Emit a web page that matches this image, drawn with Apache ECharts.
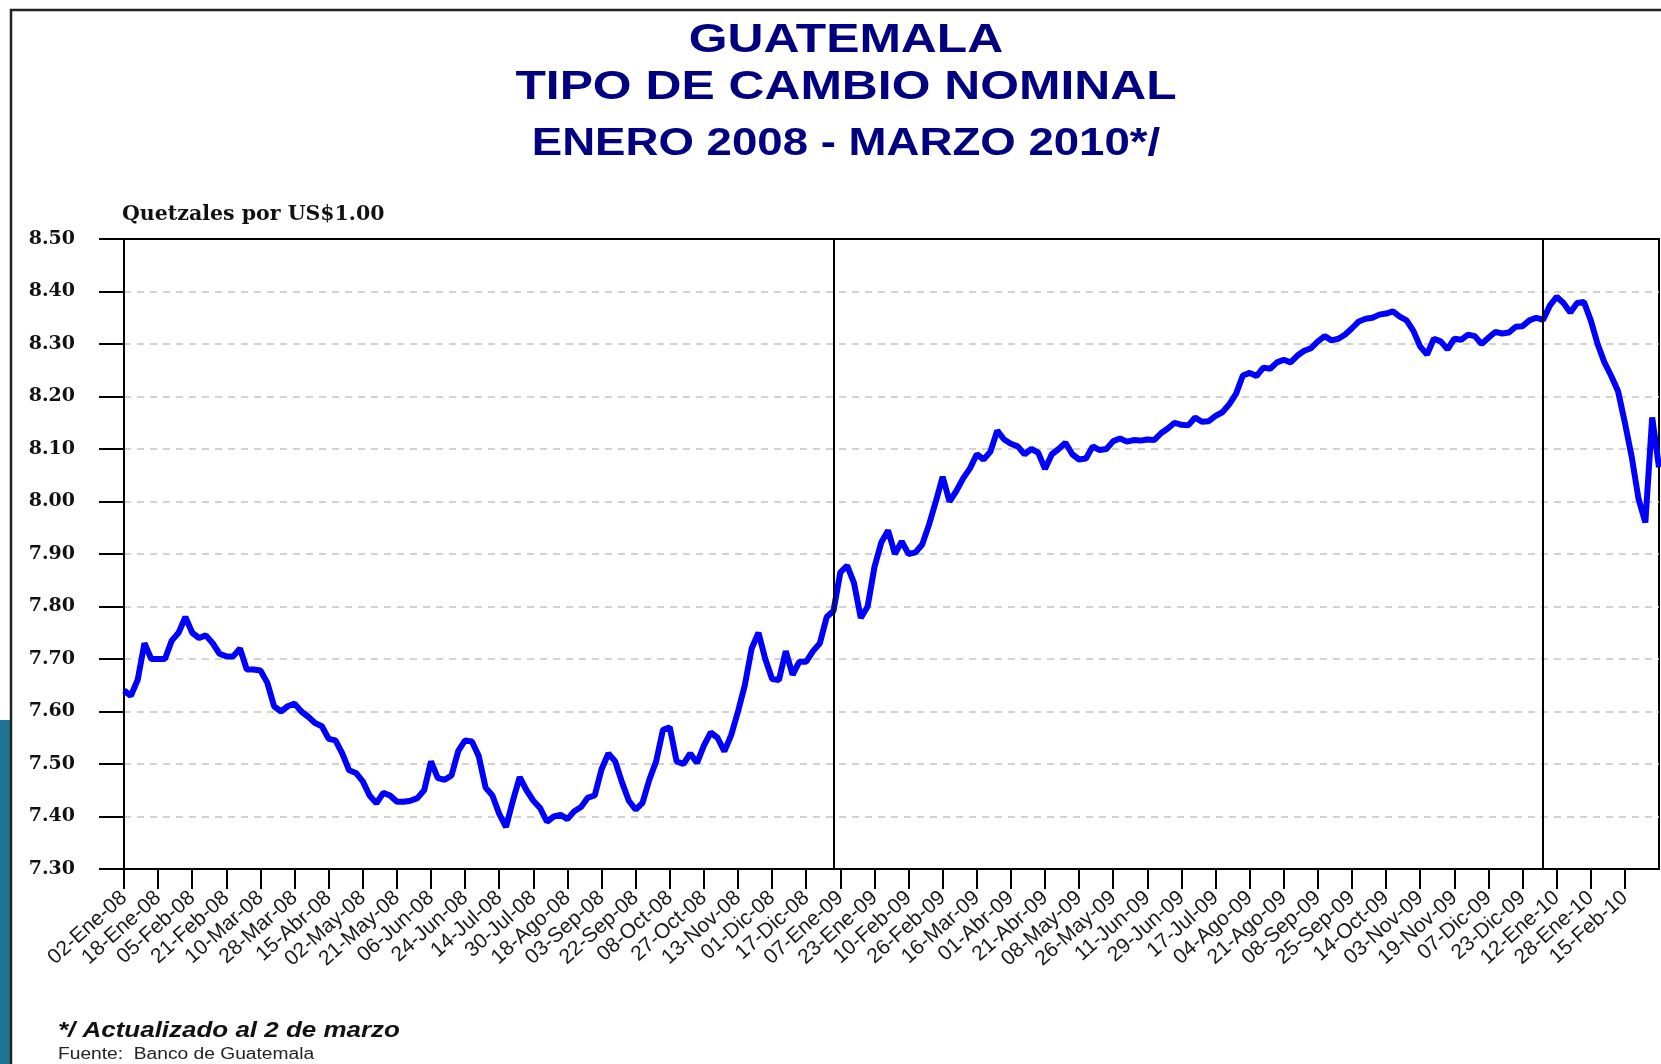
<!DOCTYPE html>
<html>
<head>
<meta charset="utf-8">
<title>Guatemala - Tipo de cambio nominal</title>
<script src="https://cdn.jsdelivr.net/npm/echarts@6/dist/echarts.min.js"></script>
<style>
  html, body { margin: 0; padding: 0; background: #fff; }
  #main { width: 1661px; height: 1064px; }
</style>
</head>
<body>
<div id="main"></div>
<script>
// fechas marcadas en el eje (una marca cada 5 puntos)
var tickLabels = [
  '02-Ene-08', '18-Ene-08', '05-Feb-08', '21-Feb-08', '10-Mar-08', '28-Mar-08', '15-Abr-08',
  '02-May-08', '21-May-08', '06-Jun-08', '24-Jun-08', '14-Jul-08', '30-Jul-08', '18-Ago-08',
  '03-Sep-08', '22-Sep-08', '08-Oct-08', '27-Oct-08', '13-Nov-08', '01-Dic-08', '17-Dic-08',
  '07-Ene-09', '23-Ene-09', '10-Feb-09', '26-Feb-09', '16-Mar-09', '01-Abr-09', '21-Abr-09',
  '08-May-09', '26-May-09', '11-Jun-09', '29-Jun-09', '17-Jul-09', '04-Ago-09', '21-Ago-09',
  '08-Sep-09', '25-Sep-09', '14-Oct-09', '03-Nov-09', '19-Nov-09', '07-Dic-09', '23-Dic-09',
  '12-Ene-10', '28-Ene-10', '15-Feb-10'
];
var STEP = 5;

// quetzales por US$1.00, un valor cada ~2 dias habiles
var rate = [
  7.64, 7.63, 7.66, 7.73, 7.70,
  7.70, 7.70, 7.735, 7.75, 7.78,
  7.75, 7.74, 7.745, 7.73, 7.71,
  7.705, 7.705, 7.72, 7.68, 7.68,
  7.678, 7.655, 7.61, 7.60, 7.61,
  7.615, 7.60, 7.59, 7.578, 7.572,
  7.548, 7.545, 7.52, 7.488, 7.483,
  7.467, 7.44, 7.425, 7.445, 7.44,
  7.428, 7.428, 7.43, 7.435, 7.45,
  7.505, 7.473, 7.47, 7.478, 7.525,
  7.545, 7.543, 7.515, 7.455, 7.44,
  7.405, 7.38, 7.43, 7.475, 7.45,
  7.43, 7.416, 7.39, 7.40, 7.403,
  7.395, 7.41, 7.418, 7.436, 7.44,
  7.49, 7.52, 7.505, 7.465, 7.43,
  7.413, 7.426, 7.47, 7.505, 7.565,
  7.57, 7.505, 7.50, 7.52, 7.502,
  7.535, 7.56, 7.55, 7.524, 7.555,
  7.60, 7.65, 7.72, 7.75, 7.70,
  7.662, 7.66, 7.715, 7.67, 7.695,
  7.695, 7.715, 7.73, 7.78, 7.792,
  7.865, 7.878, 7.845, 7.778, 7.80,
  7.875, 7.922, 7.945, 7.90, 7.924,
  7.90, 7.903, 7.918, 7.956, 8.00,
  8.047, 8.00, 8.02, 8.044, 8.063,
  8.09, 8.08, 8.095, 8.135, 8.118,
  8.11, 8.105, 8.09, 8.10, 8.093,
  8.062, 8.09, 8.10, 8.112, 8.09,
  8.08, 8.082, 8.105, 8.098, 8.10,
  8.115, 8.12, 8.114, 8.117, 8.116,
  8.118, 8.117, 8.13, 8.139, 8.15,
  8.146, 8.145, 8.16, 8.152, 8.153,
  8.163, 8.17, 8.185, 8.205, 8.24,
  8.245, 8.239, 8.255, 8.253, 8.265,
  8.27, 8.265, 8.278, 8.287, 8.292,
  8.305, 8.315, 8.307, 8.31, 8.318,
  8.33, 8.343, 8.348, 8.35, 8.356,
  8.358, 8.362, 8.352, 8.345, 8.325,
  8.295, 8.28, 8.31, 8.305, 8.29,
  8.31, 8.308, 8.318, 8.315, 8.30,
  8.312, 8.323, 8.32, 8.322, 8.333,
  8.334, 8.345, 8.35, 8.346, 8.373,
  8.39, 8.378, 8.36, 8.378, 8.38,
  8.345, 8.30, 8.265, 8.239, 8.21,
  8.15, 8.085, 8.005, 7.96, 8.16,
  8.065
];

// cambio de año (posicion en el eje)
var yearBreaks = [104, 208];

(function() {
  var categories = [];
  for (var i = 0; i < rate.length; i++) {
    categories.push(i % STEP === 0 && tickLabels[i / STEP] ? tickLabels[i / STEP] : 'p' + i);
  }
  function isTick(i) {
    return i % STEP === 0 && i / STEP < tickLabels.length;
  }

  var navy = '#000080';
  var option = {
    backgroundColor: '#fff',
    animation: false,
    grid: {
      left: 124,
      right: 2,
      top: 239,
      bottom: 195,
      show: true,
      borderColor: '#000',
      borderWidth: 2
    },
    xAxis: {
      type: 'category',
      data: categories,
      boundaryGap: false,
      axisLine: { lineStyle: { color: '#000', width: 2 } },
      axisTick: {
        interval: function(i) { return isTick(i); },
        length: 20,
        lineStyle: { color: '#000', width: 2 }
      },
      axisLabel: {
        interval: function(i) { return isTick(i); },
        rotate: 42,
        margin: 26,
        fontFamily: 'Liberation Sans',
        fontSize: 21,
        color: '#1a1a1a'
      },
      splitLine: { show: false }
    },
    yAxis: {
      type: 'value',
      min: 7.3,
      max: 8.5,
      interval: 0.1,
      axisLine: { show: true, lineStyle: { color: '#000', width: 2 } },
      axisTick: { show: true, length: 25, lineStyle: { color: '#000', width: 2 } },
      axisLabel: {
        margin: 49,
        formatter: function(v) { return v.toFixed(2); },
        fontFamily: 'DejaVu Serif',
        fontWeight: 'bold',
        fontSize: 19,
        color: '#111'
      },
      splitLine: {
        showMinLine: false,
        showMaxLine: false,
        lineStyle: { type: [7, 6], color: '#c4c4c4', width: 1.5 }
      }
    },
    series: [{
      type: 'line',
      data: rate,
      showSymbol: false,
      smooth: false,
      lineStyle: { color: '#0000ff', width: 6 },
      markLine: {
        silent: true,
        symbol: ['none', 'none'],
        label: { show: false },
        lineStyle: { color: '#000', width: 2, type: 'solid' },
        data: yearBreaks.map(function(x) { return { xAxis: x }; })
      }
    }],
    graphic: [
      // franja decorativa a la izquierda
      { type: 'rect', shape: { x: 0, y: 720, width: 11, height: 344 }, style: { fill: '#1f7594' } },
      // marco exterior
      { type: 'rect', shape: { x: 11, y: 10, width: 1700, height: 1100 }, style: { fill: 'none', stroke: '#222', lineWidth: 2.5 } },
      {
        type: 'text', x: 846, y: 41, scaleX: 1.245,
        style: { text: 'GUATEMALA', fill: navy, font: 'bold 40px "Liberation Sans", Arial, sans-serif', textAlign: 'center', textVerticalAlign: 'middle' }
      },
      {
        type: 'text', x: 846, y: 88, scaleX: 1.245,
        style: { text: 'TIPO DE CAMBIO NOMINAL', fill: navy, font: 'bold 40px "Liberation Sans", Arial, sans-serif', textAlign: 'center', textVerticalAlign: 'middle' }
      },
      {
        type: 'text', x: 846, y: 145, scaleX: 1.2,
        style: { text: 'ENERO 2008 - MARZO 2010*/', fill: navy, font: 'bold 38px "Liberation Sans", Arial, sans-serif', textAlign: 'center', textVerticalAlign: 'middle' }
      },
      {
        type: 'text', x: 122, y: 215,
        style: { text: 'Quetzales por US$1.00', fill: '#111', font: 'bold 20.5px "DejaVu Serif", serif', textAlign: 'left', textVerticalAlign: 'middle' }
      },
      {
        type: 'text', x: 58, y: 1031, scaleX: 1.18,
        style: { text: '*/ Actualizado al 2 de marzo', fill: '#111', font: 'italic bold 22px "Liberation Sans", Arial, sans-serif', textAlign: 'left', textVerticalAlign: 'middle' }
      },
      {
        type: 'text', x: 58, y: 1055, scaleX: 1.2,
        style: { text: 'Fuente:  Banco de Guatemala', fill: '#222', font: '16px "Liberation Sans", Arial, sans-serif', textAlign: 'left', textVerticalAlign: 'middle' }
      }
    ]
  };

  var myChart = echarts.init(document.getElementById('main'));
  myChart.setOption(option);
})();
</script>
</body>
</html>
